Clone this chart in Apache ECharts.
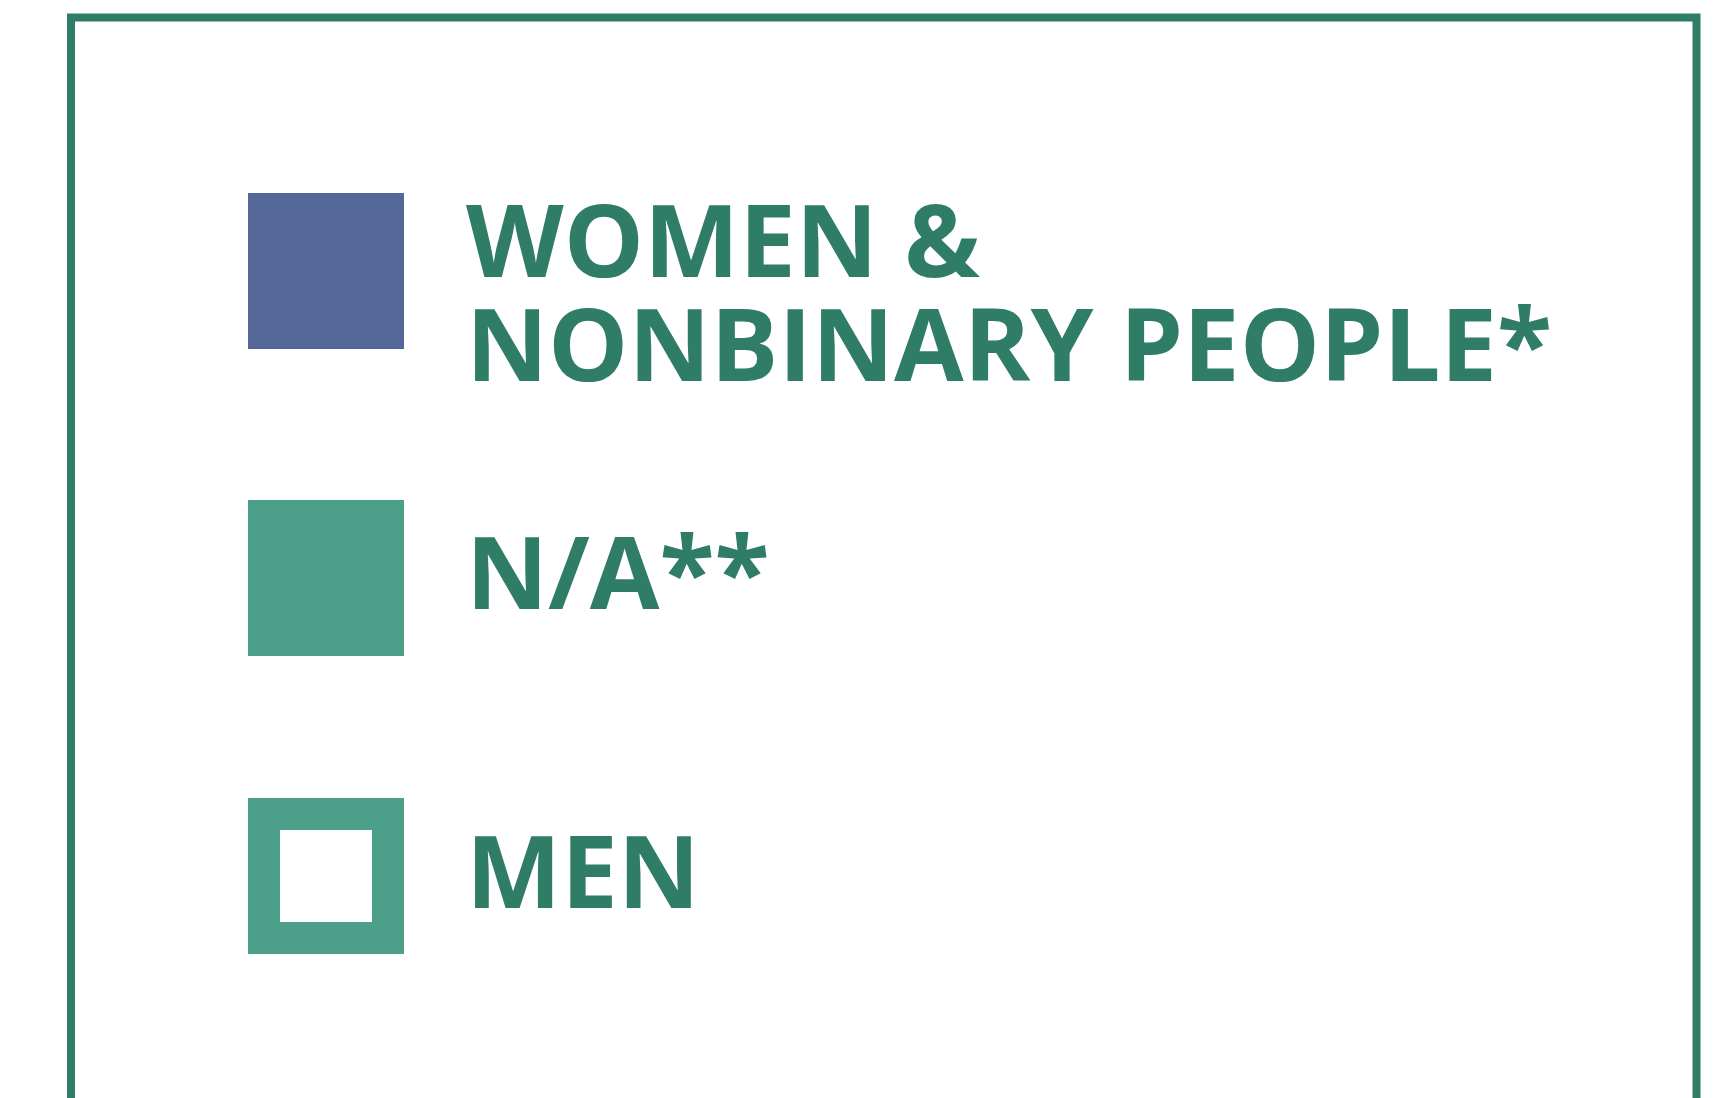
<!DOCTYPE html>
<html><head><meta charset="utf-8">
<script src="https://cdn.jsdelivr.net/npm/echarts@6/dist/echarts.min.js"></script>
<style>html,body{margin:0;padding:0;background:#fff}#c{width:1736px;height:1098px}</style>
</head><body><div id="c"></div>
<script>
// Legend entries (this chart is a stand-alone legend)
const categories = ['WOMEN &\nNONBINARY PEOPLE*', 'N/A**', 'MEN'];
const seriesColors = ['#546798', '#4c9f88', '#4c9f88'];
const seriesIcons = ['rect', 'rect', 'path://M0,0H156V156H0Z M32,32V124H124V32Z'];

const TEXT_COLOR = '#2f7d66';
const FONT = '"Open Sans", "Noto Sans", sans-serif';
const legendTops = [138, 500, 798];
const spacerHeights = [58, 4, 6];

const chart = echarts.init(document.getElementById('c'), null, {renderer: 'canvas'});
const option = {
  animation: false,
  backgroundColor: '#ffffff',
  grid: {left: 0, top: 0, width: 1, height: 1, show: false},
  xAxis: {type: 'category', show: false, data: []},
  yAxis: {type: 'value', show: false},
  graphic: [{
    type: 'rect', silent: true,
    shape: {x: 71, y: 17.5, width: 1625.5, height: 1200},
    style: {fill: 'none', stroke: TEXT_COLOR, lineWidth: 8}
  }],
  legend: categories.map((name, i) => ({
    orient: 'vertical', left: 248, top: legendTops[i], padding: 0,
    itemWidth: 156, itemHeight: 156, selectedMode: false,
    data: [{name: name, icon: seriesIcons[i]}],
    formatter: n => '{s| }\n' + n.split('\n').map(l => '{t|' + l + '}').join('\n'),
    textStyle: {
      color: TEXT_COLOR, fontFamily: FONT,
      fontWeight: 700, fontSize: 101, lineHeight: 104, padding: [0, 0, 0, 57],
      rich: {
        s: {fontSize: 2, lineHeight: spacerHeights[i], fontFamily: FONT, color: TEXT_COLOR},
        t: {fontSize: 101, lineHeight: 104, fontWeight: 700, fontFamily: FONT, color: TEXT_COLOR}
      }
    }
  })),
  series: categories.map((name, i) => ({
    type: 'bar', name: name, data: [],
    itemStyle: {color: seriesColors[i]}
  }))
};
chart.setOption(option);
</script></body></html>
